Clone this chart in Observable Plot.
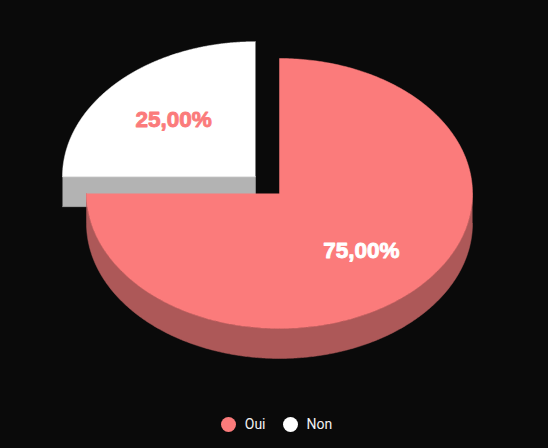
<!DOCTYPE html>
<html><head><meta charset="utf-8">
<script src="https://cdn.jsdelivr.net/npm/d3@7"></script>
<script src="https://cdn.jsdelivr.net/npm/@observablehq/plot@0.6"></script>
<style>
html,body{margin:0;padding:0;background:#0a0a0a;overflow:hidden}
#legend{height:48px;display:flex;justify-content:center;align-items:center;color:#f2f2f2;font:14px Roboto,sans-serif;padding-left:5px;box-sizing:border-box}
#legend span.i{display:flex;align-items:center;margin-right:17px}
#legend span.i:last-child{margin-right:0}
#legend i{display:inline-block;width:15px;height:15px;border-radius:50%;margin-right:9px}
svg{display:block}
</style></head><body>
<div id="chart"></div><div id="legend"></div>
<script>
const categories = ["Oui", "Non"];
const values = [75, 25];
const labels = ["75,00%", "25,00%"];
const legendOrder = [0, 1];
const topColors = ["#fb7b7b", "#ffffff"];
const sideColors = ["#ad5858", "#b3b3b3"];
const labelColors = ["#ffffff", "#fb7b7b"];
const exploded = [0, 0.176];
const depth = 0.222;

const W = 548, H = 400, cx = 279, cy = 193, rx = 193, ry = 135;
const total = d3.sum(values);
let acc = 0;
const slices = values.map((v, i) => {
  const a0 = acc / total * 2 * Math.PI; acc += v;
  const a1 = acc / total * 2 * Math.PI, mid = (a0 + a1) / 2;
  return {i, a0, a1, mid, dx: Math.sin(mid) * exploded[i], dy: -Math.cos(mid) * exploded[i]};
});
const pt = (s, a, d = 0) => ({x: s.dx + Math.sin(a), y: s.dy - Math.cos(a) + d});
const arc = (s, a0, a1, d = 0) => d3.range(0, 361).map(k => pt(s, a0 + (a1 - a0) * k / 360, d));
const centre = (s, d = 0) => ({x: s.dx, y: s.dy + d});

function topFace(s) { return [centre(s), ...arc(s, s.a0, s.a1)]; }
function outerSide(s) {
  const a0 = Math.max(s.a0, Math.PI / 2), a1 = Math.min(s.a1, 3 * Math.PI / 2);
  if (a1 <= a0) return [];
  return [...arc(s, a0, a1), ...arc(s, a0, a1, depth).reverse()];
}
function cutSide(s) {
  // radial cut facing the viewer: the start edge of a slice on the left
  const p = pt(s, s.a0), q = centre(s);
  return [p, q, {x: q.x, y: q.y + depth}, {x: p.x, y: p.y + depth}];
}
const poly = (pts, fill) => Plot.line(pts, {x: "x", y: "y", fill, stroke: fill, strokeWidth: 0.5, curve: "linear"});

const order = [slices[1], slices[0]];
const marks = [];
for (const s of order) {
  if (s.i === 1) marks.push(poly(cutSide(s), sideColors[s.i]));
  const o = outerSide(s);
  if (o.length) marks.push(poly(o, sideColors[s.i]));
  marks.push(poly(topFace(s), topColors[s.i]));
}
for (const s of order) {
  marks.push(Plot.text([{...pt(s, s.mid), label: labels[s.i]}].map(p => ({
      x: s.dx + Math.sin(s.mid) * 0.6, y: s.dy - Math.cos(s.mid) * 0.6, label: p.label})), {
    x: "x", y: "y", text: "label", fill: labelColors[s.i], stroke: labelColors[s.i], strokeWidth: 0.9,
    fontSize: 22.5, fontWeight: 700, fontFamily: "Liberation Sans, Arial, sans-serif"
  }));
}

const chart = Plot.plot({
  width: W, height: H, margin: 0,
  style: {background: "#0a0a0a", overflow: "hidden"},
  x: {domain: [-cx / rx, (W - cx) / rx], range: [0, W], axis: null},
  y: {domain: [-cy / ry, (H - cy) / ry], range: [0, H], axis: null},
  marks
});
document.getElementById("chart").append(chart);
document.getElementById("legend").innerHTML = legendOrder.map(i =>
  `<span class="i"><i style="background:${topColors[i]}"></i>${categories[i]}</span>`).join("");
</script>
</body></html>
